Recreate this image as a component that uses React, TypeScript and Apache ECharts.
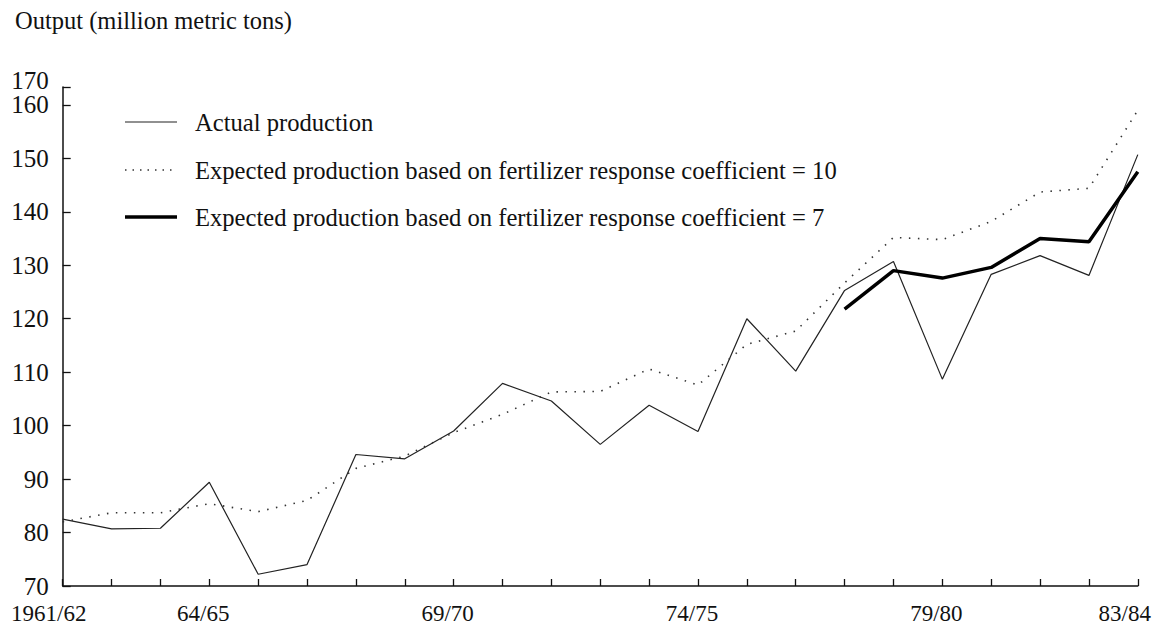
import React, { useEffect, useRef } from "react";
import * as echarts from "echarts";

const categories = [
  "1961/62", "62/63", "63/64", "64/65", "65/66", "66/67", "67/68", "68/69",
  "69/70", "70/71", "71/72", "72/73", "73/74", "74/75", "75/76", "76/77",
  "77/78", "78/79", "79/80", "80/81", "81/82", "82/83", "83/84",
];
const labeledCategories = ["1961/62", "64/65", "69/70", "74/75", "79/80", "83/84"];

const actualProduction = [
  82.5, 80.7, 80.8, 89.4, 72.2, 74.0, 94.6, 93.8, 99.0, 107.9, 104.6, 96.5,
  103.8, 98.9, 120.0, 110.2, 125.3, 130.7, 108.7, 128.3, 131.8, 128.1, 150.7,
];
const expectedCoef10 = [
  82.0, 83.7, 83.7, 85.4, 83.9, 86.0, 92.0, 94.3, 98.7, 102.1, 106.3, 106.4,
  110.6, 107.6, 115.2, 117.7, 126.7, 135.2, 134.8, 138.2, 143.7, 144.4, 159.0,
];
const expectedCoef7 = [
  null, null, null, null, null, null, null, null, null, null, null, null,
  null, null, null, null, 121.8, 129.0, 127.6, 129.6, 135.0, 134.4, 147.5,
];

const seriesNames = [
  "Actual production",
  "Expected production based on fertilizer response coefficient = 10",
  "Expected production based on fertilizer response coefficient = 7",
];
const yTitle = "Output (million metric tons)";
const yMin = 70;
const yTopValue = 163.35; // axis top drawn (compressed) and labelled 170
const yTopLabel = "170";

const FONT = "'Liberation Serif', 'DejaVu Serif', serif";

export default function App() {
  const ref = useRef<HTMLDivElement>(null);
  useEffect(() => {
    if (!ref.current) return;
    const chart = echarts.init(ref.current, null, { renderer: "svg" });
    const legendStyles = [
      { lineWidth: 1.2, lineDash: null as any, stroke: "#222" },
      { lineWidth: 1.5, lineDash: [1.5, 6], stroke: "#333" },
      { lineWidth: 3.5, lineDash: null as any, stroke: "#000" },
    ];
    const legendY = [114, 162, 209];
    const graphics: any[] = [];
    seriesNames.forEach((name, i) => {
      graphics.push({
        type: "line",
        shape: { x1: 117, y1: legendY[i], x2: 169, y2: legendY[i] },
        style: {
          stroke: legendStyles[i].stroke,
          lineWidth: legendStyles[i].lineWidth,
          lineDash: legendStyles[i].lineDash,
        },
      });
      graphics.push({
        type: "text",
        x: 187,
        y: legendY[i],
        style: {
          text: name,
          font: `24.6px ${FONT}`,
          fill: "#111",
          verticalAlign: "middle",
          align: "left",
        },
      });
    });

    chart.setOption({
      animation: false,
      backgroundColor: "#fff",
      title: {
        text: yTitle,
        left: 7,
        top: 0,
        padding: 0,
        textStyle: { fontFamily: FONT, fontSize: 24.5, fontWeight: "normal", color: "#111" },
      },
      grid: { left: 51, right: 14, top: 79, bottom: 38, containLabel: false },
      graphic: graphics,
      xAxis: {
        type: "category",
        data: categories,
        boundaryGap: false,
        axisLine: { lineStyle: { color: "#111", width: 1.5 } },
        axisTick: {
          inside: true,
          length: 7,
          interval: 0,
          lineStyle: { color: "#111", width: 1.3 },
        },
        axisLabel: {
          interval: (i: number) => labeledCategories.includes(categories[i]),
          margin: 16,
          fontFamily: FONT,
          fontSize: 23,
          color: "#111",
          formatter: (v: string, i: number) => {
            if (i === 0) return `{first|${v}}`;
            if (i === categories.length - 1) return `{last|${v}}`;
            return `{mid|${v}}`;
          },
          rich: {
            first: { fontFamily: FONT, fontSize: 23, color: "#111", padding: [0, 28, 0, 0] },
            mid: { fontFamily: FONT, fontSize: 23, color: "#111", padding: [0, 12, 0, 0] },
            last: { fontFamily: FONT, fontSize: 23, color: "#111", padding: [0, 26, 0, 0] },
          },
        },
        splitLine: { show: false },
      },
      yAxis: {
        type: "value",
        min: yMin,
        max: yTopValue,
        interval: 10,
        axisLine: { show: true, lineStyle: { color: "#111", width: 1.5 } },
        axisTick: { show: true, inside: true, length: 8, lineStyle: { color: "#111", width: 1.3 } },
        splitLine: { show: false },
        axisLabel: {
          margin: 14,
          fontFamily: FONT,
          fontSize: 25,
          color: "#111",
          showMinLabel: true,
          showMaxLabel: true,
          formatter: (v: number) => (v > 160.5 ? `{top|${yTopLabel}}` : `{n|${Math.round(v)}}`),
          rich: {
            top: { fontFamily: FONT, fontSize: 25, color: "#111", padding: [0, 0, 14, 0] },
            n: { fontFamily: FONT, fontSize: 25, color: "#111" },
          },
        },
      },
      series: [
        {
          name: seriesNames[0],
          type: "line",
          data: actualProduction,
          symbol: "none",
          lineStyle: { color: "#222", width: 1.2 },
        },
        {
          name: seriesNames[1],
          type: "line",
          data: expectedCoef10,
          symbol: "none",
          lineStyle: { color: "#333", width: 1.6, type: [1.5, 7.5] },
        },
        {
          name: seriesNames[2],
          type: "line",
          data: expectedCoef7,
          symbol: "none",
          connectNulls: false,
          lineStyle: { color: "#000", width: 3.5 },
        },
      ],
    });
    return () => chart.dispose();
  }, []);
  return <div ref={ref} style={{ width: 1146, height: 617 }} />;
}
